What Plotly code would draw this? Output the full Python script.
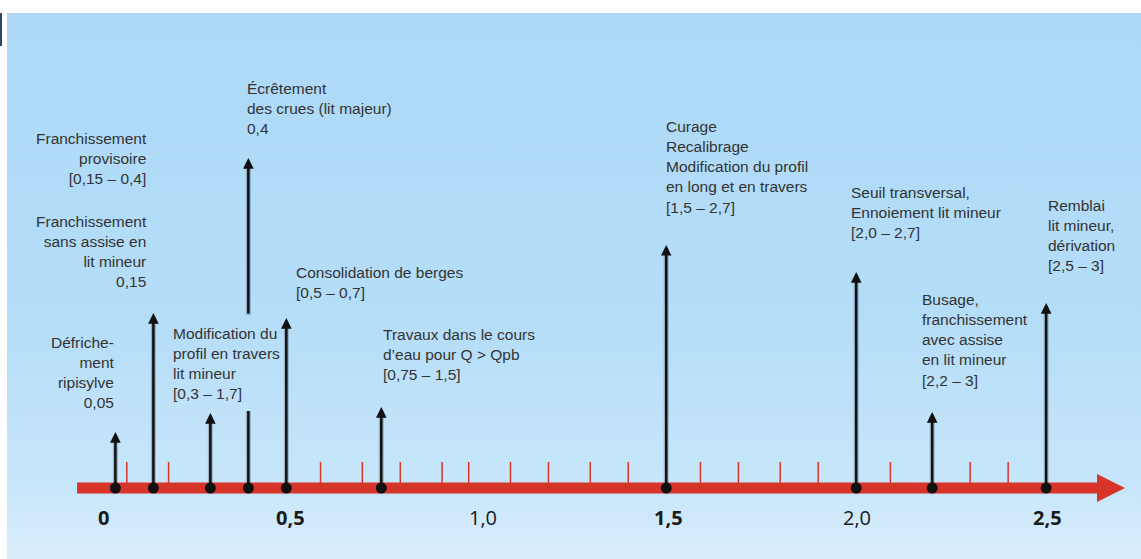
import plotly.graph_objects as go

# ---------------- data ----------------
values = [0.05, 0.15, 0.3, 0.4, 0.5, 0.75, 1.5, 2.0, 2.2, 2.5]
arrow_heights = [56, 175, 75, 330, 170, 81, 243, 216, 76, 185]

minor_ticks = [0.08, 0.19, 0.59, 0.7, 0.8, 0.91, 0.98, 1.09, 1.19, 1.3, 1.4,
               1.59, 1.69, 1.8, 1.9, 2.09, 2.3, 2.4]

tick_vals = [0, 0.5, 1.0, 1.5, 2.0, 2.5]
tick_text = ["0", "0,5", "1,0", "1,5", "2,0", "2,5"]
tick_bold = [True, True, False, True, False, True]

label_values = [0.05, 0.15, 0.15, 0.3, 0.4, 0.5, 0.75, 1.5, 2.0, 2.2, 2.5]
label_texts = [
    "Défriche-<br>ment<br>ripisylve<br>0,05",
    "Franchissement<br>sans assise en<br>lit mineur<br>0,15",
    "Franchissement<br>provisoire<br>[0,15 – 0,4]",
    "Modification du<br>profil en travers<br>lit mineur<br>[0,3 – 1,7]",
    "Écrêtement<br>des crues (lit majeur)<br>0,4",
    "Consolidation de berges<br>[0,5 – 0,7]",
    "Travaux dans le cours<br>d’eau pour Q > Qpb<br>[0,75 – 1,5]",
    "Curage<br>Recalibrage<br>Modification du profil<br>en long et en travers<br>[1,5 – 2,7]",
    "Seuil transversal,<br>Ennoiement lit mineur<br>[2,0 – 2,7]",
    "Busage,<br>franchissement<br>avec assise<br>en lit mineur<br>[2,2 – 3]",
    "Remblai<br>lit mineur,<br>dérivation<br>[2,5 – 3]",
]

# ---------------- layout constants ----------------
W, H = 1141, 559
PX0, PXU = 96.4, 379.9          # pixel of value 0, pixels per unit
AXIS_PY = 488                   # pixel row of the axis
x_range = [-PX0 / PXU, (W - PX0) / PXU]
y_range = [AXIS_PY - H, AXIS_PY]

def vx(px):
    return (px - PX0) / PXU

RED = "#D7352A"
TXT = "#333333"
FONT = "Liberation Sans Narrow, Arial Narrow, Liberation Sans, Arial, sans-serif"
SHADOW = "rgba(0,0,0,0.22)"

# label placement: (anchor, xshift px, top y in axis units)
label_place = [
    ("right", 2, 156),
    ("right", -4, 277),
    ("right", -4, 360),
    ("left", -39, 165),
    ("left", -3, 410),
    ("left", 8, 226),
    ("left", 0, 164),
    ("left", -2, 372),
    ("left", -7, 306),
    ("left", -12, 199),
    ("left", 0, 293),
]
tick_label_shift = [7, 4, 7, 2, 1, 1]
# gap in the 0.4 arrow where the text passes
gap = {0.4: (77, 173)}

fig = go.Figure()

# background panel with vertical gradient
bx0, bx1 = vx(7), x_range[1] + 0.01
by0, by1 = y_range[0] - 2, AXIS_PY - 13
fig.add_trace(go.Scatter(
    x=[bx0, bx1, bx1, bx0, bx0], y=[by0, by0, by1, by1, by0],
    mode="lines", line=dict(width=0), fill="toself",
    fillgradient=dict(type="vertical", start=by0, stop=by1,
                      colorscale=[[0, "#DAEEFC"], [0.13, "#C8E6FA"],
                                  [0.45, "#B4DDF8"], [1, "#ADD9F7"]]),
    hoverinfo="skip", showlegend=False))

# minor ticks (red)
tx, ty = [], []
for t in minor_ticks:
    tx += [t, t, None]
    ty += [0, 26, None]
fig.add_trace(go.Scatter(x=tx, y=ty, mode="lines",
                         line=dict(color=RED, width=1.5),
                         hoverinfo="skip", showlegend=False))

# red axis band
fig.add_trace(go.Scatter(x=[vx(77), vx(1100)], y=[0, 0], mode="lines",
                         line=dict(color=RED, width=11),
                         hoverinfo="skip", showlegend=False))
# axis arrow head
hx0, hx1 = vx(1097), vx(1125)
fig.add_trace(go.Scatter(x=[hx0, hx1, hx0, hx0], y=[14, 0, -14, 14],
                         mode="lines", line=dict(width=0, color=RED),
                         fill="toself", fillcolor=RED,
                         hoverinfo="skip", showlegend=False))

annotations = []
sx, sy = [], []          # shadow segments
bx, by = [], []          # plain segments (no head)
for v, h in zip(values, arrow_heights):
    y_start = 0
    if v in gap:
        g0, g1 = gap[v]
        sx += [v, v, None]
        sy += [0, g0, None]
        bx += [v, v, None]
        by += [0, g0, None]
        y_start = g1
    sx += [v, v, None]
    sy += [y_start, h - 4, None]
    annotations.append(dict(x=v, y=h, ax=v, ay=y_start, xref="x", yref="y",
                            axref="x", ayref="y", text="", showarrow=True,
                            arrowhead=2, arrowsize=0.85, arrowwidth=2.5,
                            arrowcolor="#111111"))

fig.add_trace(go.Scatter(x=sx, y=sy, mode="lines",
                         line=dict(color=SHADOW, width=5),
                         hoverinfo="skip", showlegend=False))
fig.add_trace(go.Scatter(x=bx, y=by, mode="lines",
                         line=dict(color="#111111", width=2.5),
                         hoverinfo="skip", showlegend=False))

# dots on the axis
fig.add_trace(go.Scatter(x=values, y=[0] * len(values), mode="markers",
                         marker=dict(color="#111111", size=11),
                         hoverinfo="skip", showlegend=False))

# text labels
for v, txt, (anc, xs, ytop) in zip(label_values, label_texts, label_place):
    annotations.append(dict(x=v, y=ytop, xref="x", yref="y", text=txt,
                            showarrow=False, xanchor=anc, yanchor="top",
                            xshift=xs, align=anc,
                            font=dict(family=FONT, size=15.5, color=TXT)))

# axis tick labels
for tv, tt, b, xs in zip(tick_vals, tick_text, tick_bold, tick_label_shift):
    annotations.append(dict(x=tv, y=-29, xref="x", yref="y",
                            text=f"<b>{tt}</b>" if b else tt,
                            showarrow=False, xanchor="center", yanchor="middle",
                            xshift=xs,
                            font=dict(family="Open Sans, sans-serif", size=20,
                                      color="#1a1a1a")))

shapes = [dict(type="rect", xref="paper", yref="paper",
               x0=0, x1=2 / W, y0=1 - 46 / H, y1=1 - 13 / H,
               fillcolor="#2E4A5C", line=dict(width=0))]

fig.update_layout(
    width=W, height=H,
    margin=dict(l=0, r=0, t=0, b=0),
    paper_bgcolor="white", plot_bgcolor="rgba(0,0,0,0)",
    xaxis=dict(range=x_range, visible=False, fixedrange=True),
    yaxis=dict(range=y_range, visible=False, fixedrange=True),
    shapes=shapes, annotations=annotations,
    showlegend=False, hovermode=False,
)

fig.write_html("out.html",
               config={"displayModeBar": False},
               post_script="document.body.style.margin='0';"
                           "document.body.style.padding='0';")
